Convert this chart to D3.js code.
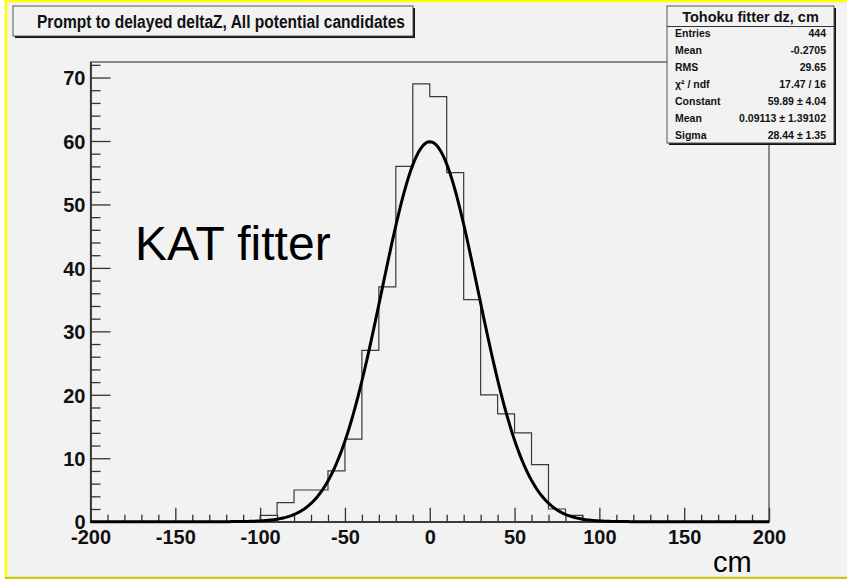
<!DOCTYPE html>
<html>
<head>
<meta charset="utf-8">
<script src="https://cdn.jsdelivr.net/npm/d3@7"></script>
<style>
  html, body { margin: 0; padding: 0; background: #ffffff; }
  svg { display: block; }
  text { font-family: "Liberation Sans", Arial, Helvetica, sans-serif; }
</style>
</head>
<body>
<svg id="chart" width="847" height="579"></svg>
<script>
// Histogram of prompt-to-delayed deltaZ (cm), 10 cm bins from -200 to 200
const binLow = [-200, -190, -180, -170, -160, -150, -140, -130, -120, -110,
                -100, -90, -80, -70, -60, -50, -40, -30, -20, -10,
                0, 10, 20, 30, 40, 50, 60, 70, 80, 90,
                100, 110, 120, 130, 140, 150, 160, 170, 180, 190];
const counts = [0, 0, 0, 0, 0, 0, 0, 0, 0, 0,
                1, 3, 5, 5, 8, 13, 27, 37, 56, 69,
                67, 55, 35, 20, 17, 14, 9, 2, 1, 0,
                0, 0, 0, 0, 0, 0, 0, 0, 0, 0];
const binWidth = 10;

// Gaussian fit parameters
const fitConstant = 59.89;
const fitMean = 0.09113;
const fitSigma = 28.44;

// Axis ticks
const xMajorTicks = [-200, -150, -100, -50, 0, 50, 100, 150, 200];
const yMajorTicks = [0, 10, 20, 30, 40, 50, 60, 70];

// Statistics box
const statsTitle = "Tohoku fitter dz, cm";
const statLabels = ["Entries", "Mean", "RMS", "\u03C7\u00B2 / ndf", "Constant", "Mean", "Sigma"];
const statValues = ["444", "-0.2705", "29.65", "17.47 / 16", "59.89 \u00B1 4.04", "0.09113 \u00B1 1.39102", "28.44 \u00B1 1.35"];

const plotTitle = "Prompt to delayed deltaZ, All potential candidates";
const xTitle = "cm";
const note = "KAT fitter";

const svg = d3.select("#chart");

// Canvas background and bevelled border
svg.append("rect").attr("x", 5).attr("y", 0).attr("width", 842).attr("height", 579).attr("fill", "#f2f2f2");
svg.append("line").attr("x1", 5).attr("x2", 847).attr("y1", 1).attr("y2", 1).attr("stroke", "#ffff00").attr("stroke-width", 2.5);
svg.append("line").attr("x1", 6).attr("x2", 6).attr("y1", 0).attr("y2", 579).attr("stroke", "#ffff00").attr("stroke-width", 2.5);
svg.append("line").attr("x1", 5).attr("x2", 847).attr("y1", 578).attr("y2", 578).attr("stroke", "#c8c81a").attr("stroke-width", 2.5);

const yMax = 1.05 * d3.max(counts);
const x = d3.scaleLinear().domain([-200, 200]).range([90.5, 769]);
const y = d3.scaleLinear().domain([0, yMax]).range([521.7, 62]);

// Frame
svg.append("rect")
  .attr("x", x(-200)).attr("y", y(yMax))
  .attr("width", x(200) - x(-200)).attr("height", y(0) - y(yMax))
  .attr("fill", "none").attr("stroke", "#444").attr("stroke-width", 1.2);

const plainInt = d => String(d);

// Y axis: major and minor ticks pointing into the frame
const yMinor = d3.range(0, yMax, 2).filter(v => v % 10 !== 0);
const yAxisMinor = d3.axisLeft(y).tickValues(yMinor).tickSizeInner(-10).tickSizeOuter(0).tickFormat("");
const yAxisMajor = d3.axisLeft(y).tickValues(yMajorTicks).tickSizeInner(-20).tickSizeOuter(0).tickPadding(5).tickFormat(plainInt);
const gy1 = svg.append("g").attr("transform", `translate(${x(-200)},0)`).call(yAxisMinor);
const gy2 = svg.append("g").attr("transform", `translate(${x(-200)},0)`).call(yAxisMajor);

// X axis: ticks pointing up
const xMinor = d3.range(-200, 201, 10).filter(v => v % 50 !== 0);
const xAxisMinor = d3.axisBottom(x).tickValues(xMinor).tickSizeInner(-7).tickSizeOuter(0).tickFormat("");
const xAxisMajor = d3.axisBottom(x).tickValues(xMajorTicks).tickSizeInner(-14).tickSizeOuter(0).tickPadding(8).tickFormat(plainInt);
const gx1 = svg.append("g").attr("transform", `translate(0,${y(0)})`).call(xAxisMinor);
const gx2 = svg.append("g").attr("transform", `translate(0,${y(0)})`).call(xAxisMajor);

[gy1, gy2, gx1, gx2].forEach(g => {
  g.selectAll(".domain").attr("stroke", "#333").attr("stroke-width", 1.3);
  g.selectAll(".tick line").attr("stroke", "#333").attr("stroke-width", 1.3);
  g.selectAll("text").attr("font-size", 20).attr("font-weight", "bold").attr("fill", "#111")
    .style("font-family", "'Liberation Sans', Arial, sans-serif");
});
gy2.selectAll("text").attr("dy", "0.36em");

// Histogram outline (step line)
const stepPts = binLow.map((b, i) => [b, counts[i]]);
stepPts.push([binLow[binLow.length - 1] + binWidth, counts[counts.length - 1]]);
svg.append("path")
  .datum(stepPts)
  .attr("fill", "none")
  .attr("stroke", "#3a3a3a")
  .attr("stroke-width", 1.2)
  .attr("d", d3.line().x(d => x(d[0])).y(d => y(d[1])).curve(d3.curveStepAfter));

// Gaussian fit curve
const gauss = v => fitConstant * Math.exp(-0.5 * Math.pow((v - fitMean) / fitSigma, 2));
const fitX = d3.range(-200, 200.01, 1);
svg.append("path")
  .datum(fitX)
  .attr("fill", "none")
  .attr("stroke", "#000")
  .attr("stroke-width", 3)
  .attr("stroke-linejoin", "round")
  .attr("d", d3.line().x(d => x(d)).y(d => y(gauss(d))));

// Plot title box
const tb = { x: 13, y: 6, w: 400, h: 30 };
svg.append("rect").attr("x", tb.x + 2).attr("y", tb.y + 2).attr("width", tb.w).attr("height", tb.h).attr("fill", "#111");
svg.append("rect").attr("x", tb.x).attr("y", tb.y).attr("width", tb.w).attr("height", tb.h)
  .attr("fill", "#f2f2f2").attr("stroke", "#555").attr("stroke-width", 1);
svg.append("text").attr("x", tb.x + 24).attr("y", tb.y + 22)
  .attr("font-size", 18).attr("font-weight", "bold").attr("fill", "#111")
  .attr("textLength", 368).attr("lengthAdjust", "spacingAndGlyphs")
  .text(plotTitle);

// Statistics box
const sb = { x: 667, y: 6, w: 167, h: 137 };
svg.append("rect").attr("x", sb.x + 2).attr("y", sb.y + 2).attr("width", sb.w).attr("height", sb.h).attr("fill", "#111");
svg.append("rect").attr("x", sb.x).attr("y", sb.y).attr("width", sb.w).attr("height", sb.h)
  .attr("fill", "#f2f2f2").attr("stroke", "#555").attr("stroke-width", 1);
svg.append("line").attr("x1", sb.x).attr("x2", sb.x + sb.w).attr("y1", sb.y + 20.5).attr("y2", sb.y + 20.5)
  .attr("stroke", "#333").attr("stroke-width", 1);
svg.append("text").attr("x", sb.x + sb.w / 2).attr("y", sb.y + 16)
  .attr("text-anchor", "middle").attr("font-size", 14.5).attr("font-weight", "bold").attr("fill", "#111")
  .text(statsTitle);
const rowY = d3.scaleLinear().domain([0, statLabels.length - 1]).range([sb.y + 31, sb.y + 132.5]);
statLabels.forEach((lab, i) => {
  svg.append("text").attr("x", sb.x + 8).attr("y", rowY(i))
    .attr("font-size", 10.5).attr("font-weight", "bold").attr("fill", "#111").text(lab);
  svg.append("text").attr("x", sb.x + sb.w - 8).attr("y", rowY(i)).attr("text-anchor", "end")
    .attr("font-size", 10.5).attr("font-weight", "bold").attr("fill", "#111").text(statValues[i]);
});

// Annotation and axis title
svg.append("text").attr("x", 135).attr("y", 260).attr("font-size", 48).attr("fill", "#000").text(note);
svg.append("text").attr("x", 713).attr("y", 572).attr("font-size", 29).attr("fill", "#000").text(xTitle);
</script>
</body>
</html>
